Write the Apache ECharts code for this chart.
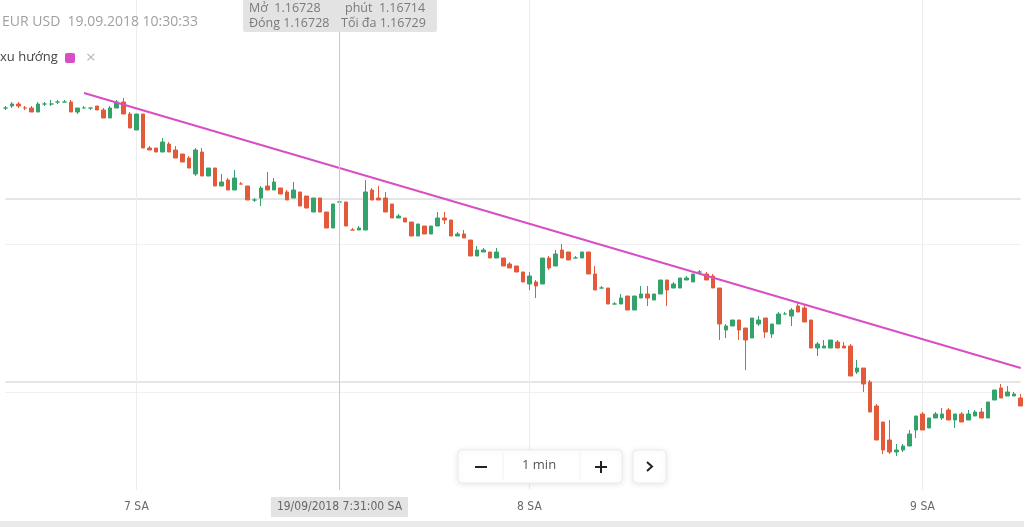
<!DOCTYPE html>
<html><head><meta charset="utf-8">
<script src="https://cdn.jsdelivr.net/npm/echarts@6/dist/echarts.min.js"></script>
<style>html,body{margin:0;padding:0;background:#fff}#c{width:1024px;height:527px}</style>
</head><body><div id="c"></div>
<script>
// Prices stored in units of 0.00001 (pipettes)
const openP = [116775,116776,116777,116775,116775,116773,116777,116777,116778,116778,
116778,116773,116775,116775,116776,116774,116770,116775,116778,116772,
116764,116772,116755,116755,116753,116757,116754,116752,116750,116742,
116753,116741,116745,116736,116739,116734,116737,116736,116729,116730,
116736,116734,116735,116733,116730,116733,116731,116723,116730,116723,
116715,116728,116728,116714,116714,116714,116734,116730,116730,116727,
116720,116720,116718,116711,116716,116712,116716,116720,116719,116711,
116712,116709,116701,116703,116703,116700,116700,116697,116696,116693,
116687,116688,116687,116700,116696,116704,116703,116700,116700,116703,
116692,116685,116685,116677,116677,116681,116674,116680,116682,116679,
116682,116689,116685,116685,116689,116688,116693,116692,116691,116685,
116664,116666,116669,116665,116660,116667,116670,116662,116667,116672,
116671,116676,116675,116669,116655,116655,116655,116658,116656,116656,
116643,116645,116638,116626,116618,116609,116603,116604,116606,116614,
116622,116615,116620,116620,116624,116619,116622,116619,116621,116623,
116620,116629,116635,116631,116631,116630];
const closeP = [116775,116777,116776,116775,116773,116777,116777,116777,116778,116778,
116773,116775,116775,116775,116774,116770,116775,116778,116772,116765,
116772,116755,116754,116753,116758,116753,116750,116748,116745,116754,
116741,116745,116736,116738,116734,116740,116737,116729,116729,116735,
116734,116738,116732,116729,116734,116726,116725,116730,116723,116715,
116727,116728,116716,116714,116715,116733,116729,116729,116723,116720,
116721,116718,116711,116717,116712,116716,116720,116719,116711,116712,
116710,116701,116704,116704,116700,116703,116696,116695,116693,116688,
116691,116686,116700,116695,116702,116700,116699,116700,116703,116692,
116684,116685,116677,116677,116680,116674,116681,116682,116680,116682,
116689,116684,116687,116690,116690,116692,116693,116689,116685,116667,
116666,116669,116664,116659,116670,116669,116663,116667,116672,116672,
116674,116673,116668,116655,116657,116656,116659,116655,116655,116641,
116645,116637,116623,116609,116604,116603,116604,116606,116612,116621,
116614,116620,116622,116622,116619,116622,116618,116622,116623,116620,
116628,116634,116630,116633,116632,116626];
const lowP = [116774,116775,116775,116774,116773,116773,116776,116776,116777,116778,
116773,116772,116775,116774,116774,116770,116770,116775,116772,116765,
116764,116755,116754,116753,116753,116753,116750,116748,116745,116741,
116741,116741,116736,116736,116734,116734,116737,116729,116728,116726,
116734,116734,116732,116729,116730,116726,116725,116723,116723,116715,
116715,116714,116716,116714,116714,116714,116729,116729,116723,116720,
116720,116718,116711,116711,116712,116712,116716,116717,116711,116711,
116710,116701,116701,116703,116700,116700,116696,116695,116693,116688,
116684,116680,116687,116694,116696,116700,116699,116700,116700,116692,
116684,116685,116677,116677,116677,116674,116674,116680,116676,116679,
116682,116676,116685,116685,116689,116688,116692,116689,116685,116659,
116660,116666,116659,116644,116660,116666,116660,116660,116667,116672,
116666,116673,116668,116655,116651,116655,116655,116655,116655,116641,
116642,116633,116623,116609,116602,116602,116601,116603,116606,116610,
116614,116615,116620,116619,116619,116615,116618,116619,116621,116620,
116620,116629,116630,116631,116631,116626];
const highP = [116776,116778,116778,116776,116776,116778,116778,116779,116779,116779,
116779,116775,116776,116775,116776,116775,116776,116779,116780,116773,
116772,116772,116756,116755,116760,116758,116756,116752,116751,116755,
116755,116745,116745,116742,116740,116744,116738,116736,116730,116736,
116743,116740,116735,116734,116738,116733,116731,116730,116730,116723,
116727,116729,116728,116715,116716,116739,116735,116736,116733,116727,
116722,116720,116718,116717,116716,116716,116723,116723,116719,116713,
116714,116709,116706,116705,116703,116705,116700,116698,116696,116693,
116693,116689,116700,116701,116704,116707,116703,116701,116703,116703,
116696,116686,116685,116678,116682,116681,116681,116686,116686,116682,
116689,116689,116688,116690,116691,116692,116694,116693,116692,116685,
116667,116669,116669,116665,116670,116671,116670,116667,116673,116673,
116675,116678,116677,116669,116658,116659,116659,116659,116658,116657,
116649,116645,116639,116627,116618,116619,116607,116607,116614,116621,
116623,116620,116623,116625,116625,116622,116623,116624,116624,116625,
116628,116634,116637,116636,116633,116632];
const startHour = 6, startMinute = 40;          // first candle time
const trendStart = {index: 12, price: 1.167825};
const trendEnd = {index: 155, price: 1.16645};
const gridLevelsStrong = [1.167295, 1.16638];
const gridLevelsFaint = [1.16707, 1.16633];
const crosshairIndex = 51;

const cats = openP.map((_, i) => {
  const t = startHour * 60 + startMinute + i;
  return Math.floor(t / 60) + ':' + String(t % 60).padStart(2, '0');
});
const ohlc = openP.map((o, i) => [o / 1e5, closeP[i] / 1e5, lowP[i] / 1e5, highP[i] / 1e5]);
const hourCats = cats.filter(c => c.endsWith(':00'));
const firstCat = cats[0], lastCat = cats[cats.length - 1];

const UP = '#34a36b', DOWN = '#e35a3b', TREND = '#d94ec4';
const FONT = '"Open Sans", "Noto Sans", sans-serif';
const NARROW = '"Liberation Sans Narrow", "DejaVu Sans Condensed", "Open Sans", sans-serif';

const hLine = (v, color, width) => [
  {coord: [firstCat, v], lineStyle: {color: color, width: width, type: 'solid'}},
  {coord: [lastCat, v]}
];
const gridMarks = gridLevelsStrong.map(v => hLine(v, '#dcdcdc', 1.5))
  .concat(gridLevelsFaint.map(v => hLine(v, '#f0f0f0', 1)))
  .concat(hourCats.map(c => ({xAxis: c, lineStyle: {color: '#ededed', width: 1, type: 'solid'}})));

const chart = echarts.init(document.getElementById('c'), null, {renderer: 'canvas'});
chart.setOption({
  animation: false,
  backgroundColor: '#ffffff',
  grid: {left: 2.1, right: -4.6, top: 0, bottom: 37, containLabel: false},
  xAxis: {
    type: 'category', data: cats, boundaryGap: true,
    axisLine: {show: false}, axisTick: {show: false},
    axisLabel: {
      interval: (i, v) => v.endsWith(':00'),
      formatter: v => v.split(':')[0] + ' SA',
      color: '#6a6a6a', fontSize: 12, fontFamily: NARROW, margin: 11
    },
    splitLine: {show: false},
    axisPointer: {
      show: true, type: 'line', status: 'show', value: cats[crosshairIndex], triggerTooltip: false,
      lineStyle: {color: '#c9c9c9', width: 1, type: 'solid'},
      label: {show: true, formatter: () => '19/09/2018 7:31:00 SA', backgroundColor: '#e3e3e3',
        color: '#666', fontSize: 12, fontFamily: NARROW, padding: [4, 6, 4, 6], margin: 7, borderRadius: 0}
    }
  },
  yAxis: {
    type: 'value', min: 1.16584, max: 1.16829, scale: true, show: false,
    splitLine: {show: false}
  },
  series: [
    {
      type: 'line', data: cats.map(() => null), z: 1, silent: true, symbol: 'none',
      markLine: {
        silent: true, symbol: ['none', 'none'], label: {show: false}, animation: false, z: 1,
        data: gridMarks
      }
    },
    {
      type: 'candlestick', data: ohlc, z: 3, barWidth: '62%',
      itemStyle: {color: UP, color0: DOWN, borderColor: UP, borderColor0: DOWN, borderWidth: 1},
      markLine: {
        silent: true, symbol: ['none', 'none'], label: {show: false}, animation: false,
        lineStyle: {color: TREND, width: 2, type: 'solid'},
        data: [[{coord: [cats[trendStart.index], trendStart.price]}, {coord: [cats[trendEnd.index], trendEnd.price]}]]
      }
    }
  ],
  graphic: [
    {type: 'rect', z: 100, shape: {x: 0, y: 521, width: 1024, height: 6}, style: {fill: '#e9e9e9'}},
    {type: 'text', z: 100, left: 2, top: 15, style: {text: 'EUR USD  19.09.2018 10:30:33', fill: '#a0a0a0', font: '14px ' + FONT}},
    {type: 'text', z: 100, left: 0, top: 51, style: {text: 'xu hướng', fill: '#444', font: '13px ' + FONT}},
    {type: 'rect', z: 100, shape: {x: 65, y: 53, width: 10, height: 10, r: 2}, style: {fill: TREND}},
    {type: 'text', z: 100, left: 86, top: 50, style: {text: '×', fill: '#b5b5b5', font: '17px ' + FONT}},
    {type: 'rect', z: 100, shape: {x: 243, y: -4, width: 194, height: 36, r: 2}, style: {fill: '#e3e3e3'}},
    {type: 'text', z: 101, left: 249, top: 2, style: {text: 'Mở  1.16728', fill: '#7a7a7a', font: '12.5px ' + FONT}},
    {type: 'text', z: 101, left: 345, top: 2, style: {text: 'phút  1.16714', fill: '#7a7a7a', font: '12.5px ' + FONT}},
    {type: 'text', z: 101, left: 249, top: 17, style: {text: 'Đóng 1.16728', fill: '#7a7a7a', font: '12.5px ' + FONT}},
    {type: 'text', z: 101, left: 341, top: 17, style: {text: 'Tối đa 1.16729', fill: '#7a7a7a', font: '12.5px ' + FONT}},
    {type: 'rect', z: 100, shape: {x: 458, y: 450, width: 164, height: 33, r: 4},
      style: {fill: '#fff', stroke: '#ececec', lineWidth: 1, shadowBlur: 6, shadowColor: 'rgba(0,0,0,0.10)', shadowOffsetY: 1}},
    {type: 'line', z: 101, shape: {x1: 503, y1: 452, x2: 503, y2: 481}, style: {stroke: '#f2f2f2', lineWidth: 1}},
    {type: 'line', z: 101, shape: {x1: 580, y1: 452, x2: 580, y2: 481}, style: {stroke: '#f2f2f2', lineWidth: 1}},
    {type: 'rect', z: 101, shape: {x: 475, y: 466, width: 12, height: 2}, style: {fill: '#222'}},
    {type: 'text', z: 101, left: 522, top: 459, style: {text: '1 min', fill: '#555', font: '13px ' + FONT}},
    {type: 'rect', z: 101, shape: {x: 595, y: 466, width: 12, height: 2}, style: {fill: '#222'}},
    {type: 'rect', z: 101, shape: {x: 600, y: 461, width: 2, height: 12}, style: {fill: '#222'}},
    {type: 'rect', z: 100, shape: {x: 633, y: 450, width: 33, height: 33, r: 4},
      style: {fill: '#fff', stroke: '#ececec', lineWidth: 1, shadowBlur: 6, shadowColor: 'rgba(0,0,0,0.10)', shadowOffsetY: 1}},
    {type: 'polyline', z: 101, shape: {points: [[647, 462], [652, 466.5], [647, 471]]}, style: {stroke: '#222', lineWidth: 2, fill: null}}
  ]
});
</script></body></html>
